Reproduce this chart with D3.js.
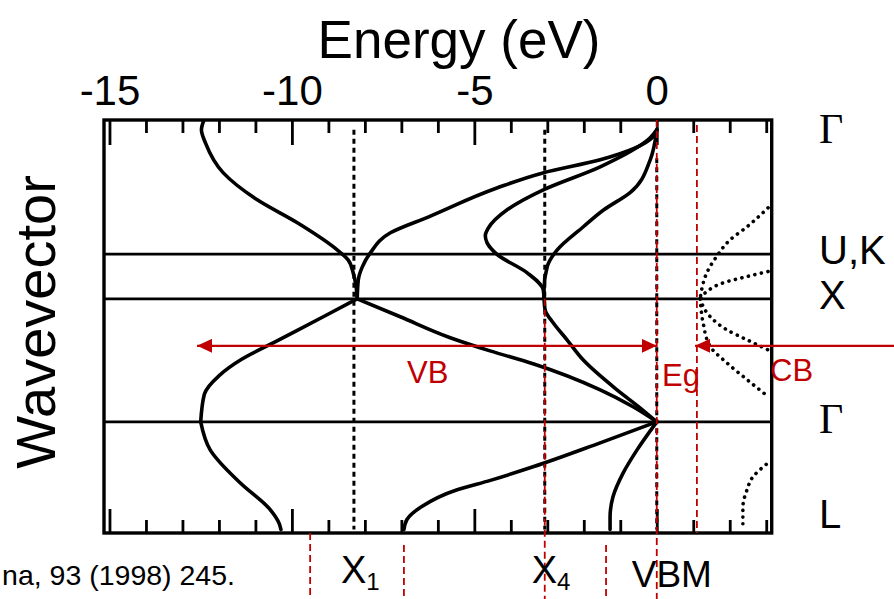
<!DOCTYPE html>
<html>
<head>
<meta charset="utf-8">
<script src="https://cdn.jsdelivr.net/npm/d3@7"></script>
<style>
body { margin: 0; background: #fff; }
svg { display: block; font-family: Arial, "Liberation Sans", sans-serif; }
</style>
</head>
<body>
<svg id="chart" width="894" height="599"></svg>
<script>
// energy axis (eV)
const majorTicks = [-15, -10, -5, 0];
const minorTicks = [-14, -13, -12, -11, -9, -8, -7, -6, -4, -3, -2, -1, 1, 2, 3];

// k-path, top to bottom
const kLabels = ["Γ", "U,K", "X", "Γ", "L"];
const kPos = [0, 1.01, 1.374, 2.374, 3.25];

// valence bands, points are [k, E]
const bandsGX = [
  [[-0.08,-12.41],[0,-12.48],[0.106,-12.37],[0.35,-11.88],[0.569,-10.95],[0.756,-9.85],[0.976,-8.76],[1.057,-8.46],[1.163,-8.32],[1.276,-8.24],[1.374,-8.21]],
  [[0,0],[0.057,-0.1],[0.244,-1.55],[0.35,-3.12],[0.475,-4.4],[0.707,-6.25],[0.837,-7.3],[1.0,-7.85],[1.114,-8.07],[1.22,-8.18],[1.374,-8.21]],
  [[0,0],[0.065,-0.18],[0.301,-1.55],[0.488,-3.11],[0.65,-4.1],[0.8,-4.62],[0.86,-4.7],[0.919,-4.65],[1.012,-4.38],[1.163,-3.55],[1.301,-3.11],[1.374,-3.09]],
  [[0,0],[0.244,-0.18],[0.51,-0.73],[0.65,-1.45],[0.79,-2.02],[0.98,-2.74],[1.11,-3.0],[1.3,-3.09],[1.374,-3.09]]
];
const bandsXG = [
  [[1.374,-8.21],[1.52,-9.14],[1.73,-10.5],[1.87,-11.4],[2.0,-12.0],[2.15,-12.4],[2.374,-12.5]],
  [[1.374,-8.21],[1.52,-7.03],[1.69,-5.66],[1.797,-4.57],[1.902,-3.39],[2.114,-1.55],[2.252,-0.65],[2.374,0]],
  [[1.374,-3.09],[1.463,-3.06],[1.569,-2.84],[1.707,-2.46],[1.87,-2.02],[2.114,-1.09],[2.26,-0.46],[2.374,0]]
];
const bandsGL = [
  [[2.374,-12.5],[2.602,-12.24],[2.87,-11.42],[3.09,-10.59],[3.2,-10.35],[3.25,-10.3]],
  [[2.374,0],[2.545,-1.55],[2.74,-3.39],[2.85,-4.56],[2.927,-5.47],[3.065,-6.45],[3.17,-6.85],[3.25,-6.93]],
  [[2.374,0],[2.602,-0.54],[2.789,-0.92],[2.984,-1.2],[3.15,-1.28],[3.25,-1.28]]
];
// conduction bands (dotted)
const cbDotted = [
  [[0.634,3.05],[0.789,2.47],[0.894,2.01],[1.03,1.64],[1.163,1.37],[1.3,1.23],[1.374,1.19]],
  [[1.152,3.05],[1.193,2.47],[1.244,1.82],[1.315,1.37],[1.374,1.19]],
  [[1.374,1.19],[1.518,1.46],[1.626,1.92],[1.707,2.47],[1.789,3.05]],
  [[1.374,1.19],[1.569,1.27],[1.76,1.46],[1.894,1.92],[2.03,2.47],[2.168,3.05]],
  [[2.72,3.0],[2.82,2.64],[2.93,2.47],[3.07,2.36],[3.25,2.36]]
];

// guide levels (eV)
const critLevels = [-8.3, -3.07, 0];          // X1, X4, VBM (black dashed)
const redLevels = [0, 1.1, -3.07, -9.5, -6.93, -1.39];
const vbArrow = [-12.6, 0];
const cbArrowEnd = 1.05;
const arrowK = 1.756;

const svg = d3.select("#chart");
const red = "#c00000";

const x = d3.scaleLinear().domain([-15.15, 3.15]).range([104, 771.7]);
const y = d3.scaleLinear().domain([-0.08, 3.278]).range([120, 533]);
const [xLeft, xRight] = x.range();
const [yTop, yBottom] = y.range();

const defs = svg.append("defs");
defs.append("clipPath").attr("id", "plot")
  .append("rect").attr("x", xLeft).attr("y", yTop).attr("width", xRight - xLeft).attr("height", yBottom - yTop);
defs.append("marker")
  .attr("id", "head").attr("viewBox", "0 0 15 14")
  .attr("refX", 15).attr("refY", 7)
  .attr("markerWidth", 15).attr("markerHeight", 14)
  .attr("markerUnits", "userSpaceOnUse")
  .attr("orient", "auto-start-reverse")
  .append("path").attr("d", "M0,0L15,7L0,14Z").attr("fill", red);

// title
svg.append("text")
  .attr("x", 459).attr("y", 58)
  .attr("text-anchor", "middle").attr("font-size", 53)
  .text("Energy (eV)");

svg.append("text")
  .attr("transform", "translate(55,322) rotate(-90)")
  .attr("text-anchor", "middle").attr("font-size", 56)
  .text("Wavevector");

// axes: ticks point inward
function styleAxis(g) {
  g.select(".domain").remove();
  g.selectAll("line").attr("stroke", "#000").attr("stroke-width", 2.8);
  g.selectAll("text").attr("font-size", 42).attr("fill", "#000");
  g.attr("font-family", null);
}
svg.append("g").attr("transform", `translate(0,${yTop})`)
  .call(d3.axisTop(x).tickValues(majorTicks).tickSize(-25).tickPadding(15).tickFormat(d => String(d)))
  .call(styleAxis);
svg.append("g").attr("transform", `translate(0,${yTop})`)
  .call(d3.axisTop(x).tickValues(minorTicks).tickSize(-13).tickFormat(""))
  .call(styleAxis);
svg.append("g").attr("transform", `translate(0,${yBottom})`)
  .call(d3.axisBottom(x).tickValues(majorTicks).tickSize(-24).tickFormat(""))
  .call(styleAxis);
svg.append("g").attr("transform", `translate(0,${yBottom})`)
  .call(d3.axisBottom(x).tickValues(minorTicks).tickSize(-13).tickFormat(""))
  .call(styleAxis);

// k-point lines
svg.append("g").selectAll("line")
  .data(kPos.slice(1, 4))
  .join("line")
  .attr("x1", xLeft).attr("x2", xRight)
  .attr("y1", d => y(d)).attr("y2", d => y(d))
  .attr("stroke", "#000").attr("stroke-width", 2.8);

// black dashed critical levels
const critStart = [0, 0, 0.23];
svg.append("g").selectAll("line")
  .data(critLevels)
  .join("line")
  .attr("x1", d => x(d)).attr("x2", d => x(d))
  .attr("y1", (d, i) => y(critStart[i])).attr("y2", y(3.25))
  .attr("stroke", "#000").attr("stroke-width", 3)
  .attr("stroke-dasharray", "5,4");

const line = d3.line()
  .x(d => x(d[1]))
  .y(d => y(d[0]))
  .curve(d3.curveMonotoneY);

const plot = svg.append("g").attr("clip-path", "url(#plot)");
plot.selectAll("path.vb")
  .data([...bandsGX, ...bandsXG, ...bandsGL])
  .join("path").attr("class", "vb")
  .attr("d", line)
  .attr("fill", "none").attr("stroke", "#000")
  .attr("stroke-width", 3.6).attr("stroke-linecap", "round");
plot.selectAll("path.cb")
  .data(cbDotted)
  .join("path").attr("class", "cb")
  .attr("d", line)
  .attr("fill", "none").attr("stroke", "#000")
  .attr("stroke-width", 3.6).attr("stroke-linecap", "round")
  .attr("stroke-dasharray", "0.1,6.6");

// frame
svg.append("rect")
  .attr("x", xLeft).attr("y", yTop)
  .attr("width", xRight - xLeft).attr("height", yBottom - yTop)
  .attr("fill", "none").attr("stroke", "#000").attr("stroke-width", 3.4);

// red dashed guides
const redSpans = [[120, 599], [125, 533], [y(kPos[2]), 599], [533, 599], [545, 599], [545, 599]];
svg.append("g").selectAll("line")
  .data(redLevels)
  .join("line")
  .attr("x1", d => x(d)).attr("x2", d => x(d))
  .attr("y1", (d, i) => redSpans[i][0]).attr("y2", (d, i) => redSpans[i][1])
  .attr("stroke", red).attr("stroke-width", 1.8)
  .attr("stroke-dasharray", "7,4");

// arrows
svg.append("line")
  .attr("x1", x(vbArrow[0])).attr("x2", x(vbArrow[1]))
  .attr("y1", y(arrowK)).attr("y2", y(arrowK))
  .attr("stroke", red).attr("stroke-width", 2.2)
  .attr("marker-start", "url(#head)").attr("marker-end", "url(#head)");
svg.append("line")
  .attr("x1", 894).attr("x2", x(cbArrowEnd))
  .attr("y1", y(arrowK)).attr("y2", y(arrowK))
  .attr("stroke", red).attr("stroke-width", 2.2)
  .attr("marker-end", "url(#head)");

const redText = svg.append("g").attr("fill", red).attr("font-size", 31);
redText.append("text").attr("x", 407).attr("y", 383).text("VB");
redText.append("text").attr("x", 662).attr("y", 386).text("Eg");
redText.append("text").attr("x", 770).attr("y", 381).text("CB");

// k labels on the right
const kLabelDy = [13, 10, 10, 11, -2];
svg.append("g").selectAll("text")
  .data(kLabels)
  .join("text")
  .attr("x", 819)
  .attr("y", (d, i) => y(kPos[i]) + kLabelDy[i])
  .attr("font-size", d => d === "Γ" ? 42 : 40)
  .attr("font-family", d => d === "Γ" ? "'Liberation Serif', 'Times New Roman', serif" : null)
  .text(d => d);

// bottom labels
function subLabel(e, main, sub) {
  const t = svg.append("text")
    .attr("x", x(e) - 13).attr("y", 583)
    .attr("font-size", 38);
  t.append("tspan").text(main);
  t.append("tspan").attr("font-size", 24).attr("dy", 7).text(sub);
}
subLabel(critLevels[0], "X", "1");
subLabel(critLevels[1], "X", "4");
svg.append("text")
  .attr("x", x(0) - 25).attr("y", 587)
  .attr("font-size", 37)
  .text("VBM");

svg.append("text")
  .attr("x", 235).attr("y", 585)
  .attr("text-anchor", "end").attr("font-size", 28.5)
  .text("na, 93 (1998) 245.");
</script>
</body>
</html>
